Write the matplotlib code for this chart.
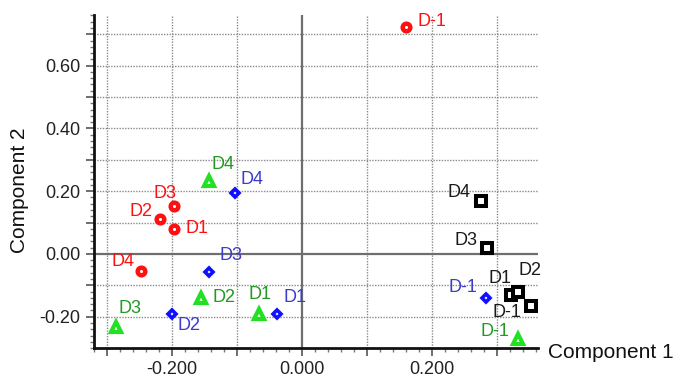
import matplotlib
matplotlib.use("Agg")
import matplotlib.pyplot as plt
from matplotlib.ticker import FixedLocator, MultipleLocator, FuncFormatter

plt.rcParams['font.family'] = ['Liberation Sans', 'DejaVu Sans']

# score values, one group per colour
labels_red = ['D-1', 'D3', 'D2', 'D1', 'D4']
x_red = [0.160, -0.197, -0.218, -0.197, -0.248]
y_red = [0.724, 0.153, 0.112, 0.080, -0.054]

labels_green = ['D4', 'D2', 'D1', 'D3', 'D-1']
x_green = [-0.143, -0.155, -0.066, -0.286, 0.332]
y_green = [0.233, -0.140, -0.190, -0.232, -0.270]

labels_blue = ['D4', 'D3', 'D2', 'D1', 'D-1']
x_blue = [-0.103, -0.143, -0.200, -0.038, 0.283]
y_blue = [0.195, -0.057, -0.190, -0.190, -0.140]

labels_black = ['D4', 'D3', 'D1', 'D2', 'D-1']
x_black = [0.275, 0.285, 0.322, 0.332, 0.352]
y_black = [0.169, 0.019, -0.131, -0.121, -0.166]

# label placement (pixel offsets from marker, alignment)
off_red = [(12, 5, 'left'), (-9, 12, 'center'), (-8, 7, 'right'), (12, 0, 'left'), (-6, 9, 'right')]
off_green = [(3, 16, 'left'), (11, 0, 'left'), (1, 19, 'center'), (3, 18, 'left'), (-8, 7, 'right')]
off_blue = [(6, 13, 'left'), (11, 16, 'left'), (6, -12, 'left'), (6, 16, 'left'), (-9, 10, 'right')]
off_black = [(-10, 8, 'right'), (-10, 7, 'right'), (0, 17, 'right'), (1, 21, 'left'), (-9, -6, 'right')]

# marker, size, edge width, marker colour, text colour
groups = [
    (x_red, y_red, labels_red, off_red, 'o', 5.5, 3.2, '#ff1010', '#ff1010'),
    (x_green, y_green, labels_green, off_green, '^', 6.5, 3.0, '#22e022', '#229922'),
    (x_blue, y_blue, labels_blue, off_blue, 'D', 4.2, 2.6, '#1010ff', '#3c3ccc'),
    (x_black, y_black, labels_black, off_black, 's', 6.5, 2.9, '#000000', '#1a1a1a'),
]

fig = plt.figure(figsize=(6.75, 3.8), dpi=100)
ax = fig.add_axes([0.139, 0.084, 0.658, 0.877])
ax.set_xlim(-0.32, 0.363)
ax.set_ylim(-0.30, 0.762)

# dotted grid every 0.1, solid zero lines
ax.xaxis.set_major_locator(FixedLocator([-0.3, -0.2, -0.1, 0.0, 0.1, 0.2, 0.3]))
ax.yaxis.set_major_locator(FixedLocator([-0.2, -0.1, 0.0, 0.1, 0.2, 0.3, 0.4, 0.5, 0.6, 0.7]))
ax.xaxis.set_minor_locator(MultipleLocator(0.02))
ax.yaxis.set_minor_locator(MultipleLocator(0.02))

def fmt_x(v, pos):
    k = int(round(v * 10))
    return '%.3f' % v if k % 2 == 0 else ''

def fmt_y(v, pos):
    k = int(round(v * 10))
    return '%.2f' % v if k % 2 == 0 else ''

ax.xaxis.set_major_formatter(FuncFormatter(fmt_x))
ax.yaxis.set_major_formatter(FuncFormatter(fmt_y))

for v in [-0.3, -0.2, -0.1, 0.1, 0.2, 0.3]:
    ax.axvline(v, color='#8a8a8a', lw=1.0, ls=(0, (1, 1)), zorder=0)
for v in [-0.2, -0.1, 0.1, 0.2, 0.3, 0.4, 0.5, 0.6, 0.7]:
    ax.axhline(v, color='#8a8a8a', lw=1.0, ls=(0, (1, 1)), zorder=0)
ax.axhline(0, color='#6e6e6e', lw=1.6, zorder=1)
ax.axvline(0, color='#6e6e6e', lw=1.6, zorder=1)

for sp in ['top', 'right']:
    ax.spines[sp].set_visible(False)
for sp in ['left', 'bottom']:
    ax.spines[sp].set_linewidth(2.0)
    ax.spines[sp].set_color('#111111')

ax.tick_params(which='major', length=6, width=1.2, color='#555555', labelsize=13, labelcolor='#222222', direction='out')
ax.tick_params(which='minor', length=3, width=1.0, color='#777777', direction='out')

for xs, ys, labs, offs, mk, ms, mew, mcol, tcol in groups:
    ax.plot(xs, ys, ls='none', marker=mk, ms=ms, mfc='white', mec=mcol, mew=mew, zorder=3)
    for x, y, t, (dx, dy, ha) in zip(xs, ys, labs, offs):
        ax.annotate(t, (x, y), xytext=(dx, dy), textcoords='offset pixels',
                    ha=ha, va='center', fontsize=13, color=tcol, zorder=4)

fig.text(0.812, 1 - 352 / 380, 'Component 1', fontsize=15, color='#111111', ha='left', va='center')
fig.text(0.029, 1 - 190 / 380, 'Component 2', fontsize=15, color='#111111', ha='center', va='center', rotation=90)

fig.savefig('out.png', dpi=100)
